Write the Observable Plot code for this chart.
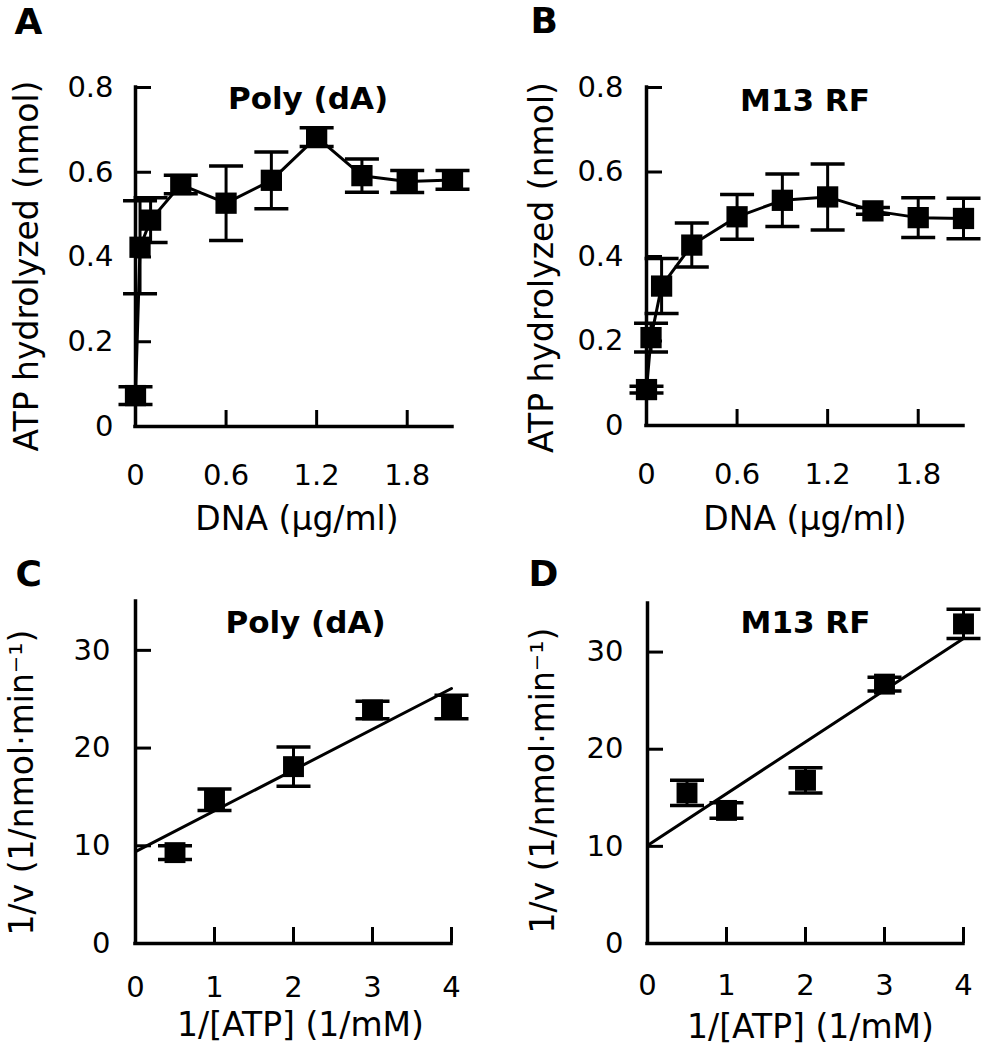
<!DOCTYPE html>
<html><head><meta charset="utf-8">
<script src="https://cdn.jsdelivr.net/npm/d3@7"></script>
<script src="https://cdn.jsdelivr.net/npm/@observablehq/plot@0.6"></script>
<style>
body{margin:0;background:#fff;}
#fig{position:relative;width:981px;height:1050px;background:#fff;overflow:hidden;}
#fig svg{position:absolute;}
</style></head><body><div id="fig"></div>
<script>
// ---- Panel A: Poly (dA), ATP hydrolyzed vs DNA ----
const dnaConc = [0, 0.03, 0.1, 0.3, 0.6, 0.9, 1.2, 1.5, 1.8, 2.1];
const atpPolyA = [0.073, 0.423, 0.487, 0.571, 0.527, 0.581, 0.683, 0.592, 0.578, 0.582];
const errPolyA = [0.021, 0.11, 0.053, 0.022, 0.088, 0.067, 0.022, 0.039, 0.026, 0.022];
// ---- Panel B: M13 RF ----
const atpM13 = [0.085, 0.208, 0.33, 0.427, 0.494, 0.533, 0.541, 0.508, 0.492, 0.49];
const errM13 = [0.008, 0.034, 0.065, 0.052, 0.053, 0.062, 0.078, 0.008, 0.047, 0.048];
// ---- Panels C/D: double reciprocal ----
const invATP = [0.5, 1, 2, 3, 4];
const invVPoly = [9.3, 14.7, 18.1, 23.9, 24.2];
const errInvVPoly = [0.7, 1.1, 2.0, 0.9, 1.2];
const invVM13 = [15.5, 13.7, 16.8, 26.7, 32.9];
const errInvVM13 = [1.3, 0.8, 1.3, 0.7, 1.5];
// fitted lines (endpoints at 1/[ATP] = 0 and 4)
const fitX = [0, 4];
const fitPoly = [9.4, 26.1];
const fitM13 = [10.1, 31.4];
// ticks
const dnaTicks = [0, 0.6, 1.2, 1.8];
const atpTicks = [0, 0.2, 0.4, 0.6, 0.8];
const invATPTicks = [0, 1, 2, 3, 4];
const invVTicks = [0, 10, 20, 30];

const FONT = "'DejaVu Sans', 'Liberation Sans', sans-serif";
const capSymbol = {draw(ctx, size) { const r = Math.sqrt(size / Math.PI); ctx.moveTo(-r, 0); ctx.lineTo(r, 0); }};
const fmt1 = d => d === 0 ? "0" : d.toFixed(1);
const fmt0 = d => String(d);

function panel(c) {
  const data = c.x.map((xv, i) => ({x: xv, y: c.y[i], lo: c.y[i] - c.err[i], hi: c.y[i] + c.err[i]}));
  const fw = c.width - c.ml - c.mr;
  const fh = c.height - c.mt - c.mb;
  const marks = [
    Plot.ruleY([0], {strokeWidth: 3.5, strokeLinecap: "square"}),
    Plot.ruleX([0], {strokeWidth: 3.5, strokeLinecap: "square"}),
    Plot.tickX(c.xTicks, {x: d => d, insetTop: fh - 16, strokeWidth: 3}),
    Plot.tickY(c.yTicks, {y: d => d, insetRight: fw - 16, strokeWidth: 3}),
    Plot.axisX({ticks: c.xTicks, tickSize: 0, tickPadding: c.xPad, tickFormat: c.xFmt, fontSize: 29, label: null}),
    Plot.axisY({ticks: c.yTicks, tickSize: 0, tickPadding: c.yPad, tickFormat: c.yFmt, fontSize: 29, label: null}),
    Plot.ruleX(data, {x: "x", y1: "lo", y2: "hi", strokeWidth: 3}),
    Plot.dot(data, {x: "x", y: "hi", symbol: capSymbol, r: 17, stroke: "black", fill: "none", strokeWidth: 3.5}),
    Plot.dot(data, {x: "x", y: "lo", symbol: capSymbol, r: 17, stroke: "black", fill: "none", strokeWidth: 3.5}),
  ];
  if (c.fit) {
    const fd = c.fit.x.map((xv, i) => ({x: xv, y: c.fit.y[i]}));
    marks.push(Plot.line(fd, {x: "x", y: "y", stroke: "black", strokeWidth: 3}));
  } else {
    marks.push(Plot.line(data, {x: "x", y: "y", stroke: "black", strokeWidth: 3}));
  }
  marks.push(
    Plot.dot(data, {x: "x", y: "y", symbol: "square", r: c.r, fill: "black", stroke: "none"}),
    Plot.text([c.letter], {text: d => d, frameAnchor: "top-left", textAnchor: "start", lineAnchor: "bottom", dx: c.letterDx, dy: c.letterDy, fontSize: 36, fontWeight: "bold"}),
    Plot.text([c.title], {text: d => d, frameAnchor: "top", textAnchor: "middle", lineAnchor: "bottom", dx: c.titleDx, dy: c.titleDy, fontSize: 31, fontWeight: "bold"}),
    Plot.text([c.xLabel], {text: d => d, frameAnchor: "bottom", textAnchor: "middle", lineAnchor: "bottom", dx: c.xlDx, dy: c.xlDy, fontSize: 33}),
    Plot.text([c.yLabel], {text: d => d, frameAnchor: "left", textAnchor: "middle", lineAnchor: "bottom", rotate: -90, dx: c.ylDx, dy: c.ylDy, fontSize: 33})
  );
  const svg = Plot.plot({
    width: c.width, height: c.height,
    marginLeft: c.ml, marginRight: c.mr, marginTop: c.mt, marginBottom: c.mb,
    x: {domain: c.xDomain},
    y: {domain: c.yDomain},
    style: {fontFamily: FONT, fontSize: "29px", color: "black", background: "transparent", overflow: "visible"},
    marks
  });
  svg.style.left = c.left + "px";
  svg.style.top = c.top + "px";
  document.getElementById("fig").appendChild(svg);
}

panel({letter: "A", title: "Poly (dA)", xLabel: "DNA (µg/ml)", yLabel: "ATP hydrolyzed (nmol)",
  x: dnaConc, y: atpPolyA, err: errPolyA, xDomain: [0, 2.1], yDomain: [0, 0.8],
  xTicks: dnaTicks, yTicks: atpTicks, xFmt: fmt1, yFmt: fmt1, r: 12,
  left: 0, top: 0, width: 490, height: 540, ml: 135, mr: 38, mt: 87, mb: 114,
  xPad: 38, yPad: 22, letterDx: -121, letterDy: -54, titleDx: 14, titleDy: 21,
  xlDx: 3, xlDy: 103, ylDx: -98, ylDy: 9});

panel({letter: "B", title: "M13 RF", xLabel: "DNA (µg/ml)", yLabel: "ATP hydrolyzed (nmol)",
  x: dnaConc, y: atpM13, err: errM13, xDomain: [0, 2.1], yDomain: [0, 0.8],
  xTicks: dnaTicks, yTicks: atpTicks, xFmt: fmt1, yFmt: fmt1, r: 12,
  left: 490, top: 0, width: 491, height: 540, ml: 156, mr: 18, mt: 87, mb: 115,
  xPad: 38, yPad: 23, letterDx: -116, letterDy: -55, titleDx: 0, titleDy: 23,
  xlDx: 0, xlDy: 104, ylDx: -94, ylDy: 11});

panel({letter: "C", title: "Poly (dA)", xLabel: "1/[ATP] (1/mM)", yLabel: "1/v (1/nmol·min⁻¹)",
  x: invATP, y: invVPoly, err: errInvVPoly, xDomain: [0, 4], yDomain: [0, 35],
  xTicks: invATPTicks, yTicks: invVTicks, xFmt: fmt0, yFmt: fmt0, r: 11.8,
  fit: {x: fitX, y: fitPoly},
  left: 0, top: 520, width: 490, height: 530, ml: 135, mr: 39, mt: 81, mb: 107,
  xPad: 33, yPad: 25, letterDx: -120, letterDy: -16, titleDx: 12, titleDy: 31,
  xlDx: 7, xlDy: 92, ylDx: -103, ylDy: 10});

panel({letter: "D", title: "M13 RF", xLabel: "1/[ATP] (1/mM)", yLabel: "1/v (1/nmol·min⁻¹)",
  x: invATP, y: invVM13, err: errInvVM13, xDomain: [0, 4], yDomain: [0, 35],
  xTicks: invATPTicks, yTicks: invVTicks, xFmt: fmt0, yFmt: fmt0, r: 11.8,
  fit: {x: fitX, y: fitM13},
  left: 490, top: 520, width: 491, height: 530, ml: 157, mr: 18, mt: 83, mb: 107,
  xPad: 31, yPad: 24, letterDx: -119, letterDy: -18, titleDx: 0, titleDy: 29,
  xlDx: 5, xlDy: 94, ylDx: -94, ylDy: 7});
</script>
</body></html>
